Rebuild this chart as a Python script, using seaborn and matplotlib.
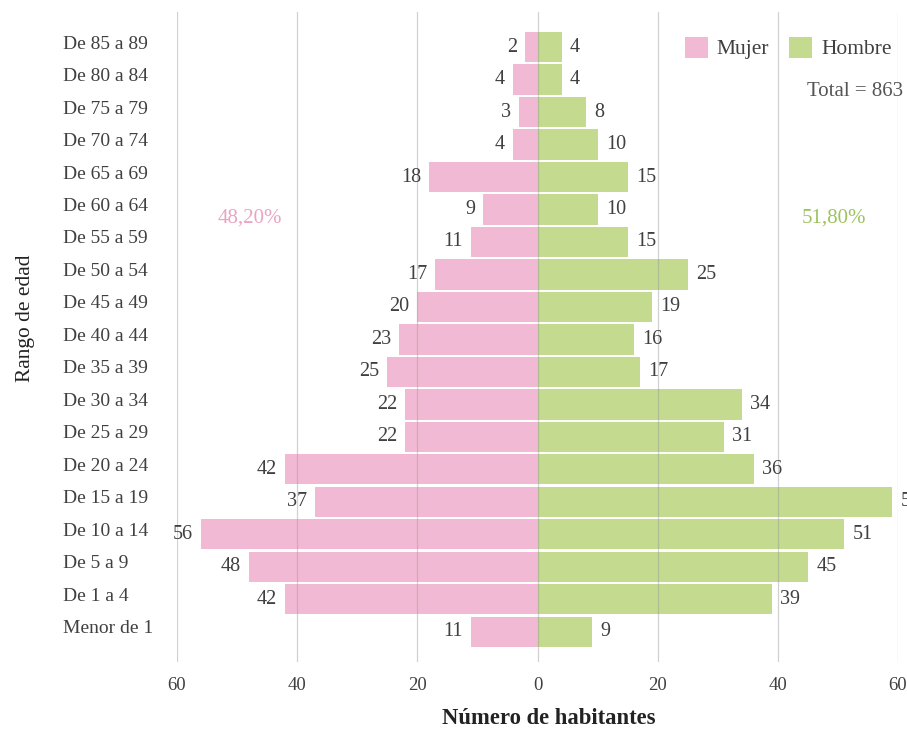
import matplotlib
matplotlib.use("Agg")
import matplotlib.pyplot as plt
from matplotlib.patches import Patch
from matplotlib.transforms import ScaledTranslation
import seaborn as sns
import pandas as pd

# Age groups, from oldest (top) to youngest (bottom)
grupos = ["De 85 a 89", "De 80 a 84", "De 75 a 79", "De 70 a 74", "De 65 a 69",
          "De 60 a 64", "De 55 a 59", "De 50 a 54", "De 45 a 49", "De 40 a 44",
          "De 35 a 39", "De 30 a 34", "De 25 a 29", "De 20 a 24", "De 15 a 19",
          "De 10 a 14", "De 5 a 9", "De 1 a 4", "Menor de 1"]
mujer = [2, 4, 3, 4, 18, 9, 11, 17, 20, 23, 25, 22, 22, 42, 37, 56, 48, 42, 11]
hombre = [4, 4, 8, 10, 15, 10, 15, 25, 19, 16, 17, 34, 31, 36, 59, 51, 45, 39, 9]
xticks = [-60, -40, -20, 0, 20, 40, 60]

color_mujer = "#F1B9D3"
color_hombre = "#C3DA8F"
texto = "#404040"

sns.set_theme(style="white")
plt.rcParams["font.family"] = ["Liberation Serif", "DejaVu Serif"]

df = pd.DataFrame({
    "edad": grupos * 2,
    "valor": [-v for v in mujer] + hombre,
    "sexo": ["Mujer"] * len(grupos) + ["Hombre"] * len(grupos),
})

fig = plt.figure(figsize=(9.07, 7.29), dpi=100)
ax = fig.add_axes([177 / 907, 1 - 662 / 729, 721 / 907, 650 / 729])

sns.barplot(data=df, x="valor", y="edad", hue="sexo", order=grupos,
            hue_order=["Mujer", "Hombre"], palette=[color_mujer, color_hombre],
            dodge=False, orient="h", width=0.93, saturation=1, legend=False,
            linewidth=0, ax=ax)

# Value labels at the end of each bar
for cont, vals in zip(ax.containers, [mujer, hombre]):
    ax.bar_label(cont, labels=[str(v) for v in vals], padding=6,
                 fontsize=14.5, color=texto, clip_on=False)

ax.set_xlim(-60, 60)
ax.set_ylim(len(grupos) - 0.07, -1.08)
ax.set_xticks(xticks)
ax.set_xticklabels([str(abs(t)) for t in xticks])
ax.xaxis.grid(True, color="#9a9a9a", alpha=0.45, linewidth=0.9)
ax.yaxis.grid(False)
ax.set_axisbelow(False)
for s in ax.spines.values():
    s.set_visible(False)

ax.tick_params(axis="x", length=0, pad=11, labelsize=13.5, labelcolor=texto)
ax.tick_params(axis="y", length=0, pad=82, labelsize=14, labelcolor=texto)
offset = ScaledTranslation(0, 0.05, fig.dpi_scale_trans)
for lab in ax.get_yticklabels():
    lab.set_horizontalalignment("left")
    lab.set_transform(lab.get_transform() + offset)

ax.set_xlabel("Número de habitantes", fontsize=16.3, fontweight="bold", color="#222222")
ax.xaxis.set_label_coords(0.515, -0.071)
ax.xaxis.label.set_verticalalignment("top")
ax.set_ylabel("Rango de edad", fontsize=15.4, color="#222222")
ax.yaxis.set_label_coords(-0.197, 0.529)

# Legend
handles = [Patch(facecolor=color_mujer, edgecolor="none", label="Mujer"),
           Patch(facecolor=color_hombre, edgecolor="none", label="Hombre")]
fig.legend(handles=handles, loc="center", bbox_to_anchor=(788 / 907, 1 - 48 / 729),
           ncol=2, frameon=False, fontsize=15.5, handlelength=1.1, handleheight=1.15,
           handletextpad=0.4, columnspacing=0.9, labelcolor=texto)

total = sum(mujer) + sum(hombre)
pct_m = 100 * sum(mujer) / total
pct_h = 100 * sum(hombre) / total
fig.text(855 / 907, 1 - 92 / 729, f"Total = {total}", fontsize=15, color="#555555",
         ha="center", va="center")
fig.text(250 / 907, 1 - 218 / 729, f"{pct_m:.2f}%".replace(".", ","), fontsize=15,
         color="#EBA3C4", ha="center", va="center")
fig.text(834 / 907, 1 - 218 / 729, f"{pct_h:.2f}%".replace(".", ","), fontsize=15,
         color="#9CC35E", ha="center", va="center")

fig.savefig("out.png", dpi=100)
